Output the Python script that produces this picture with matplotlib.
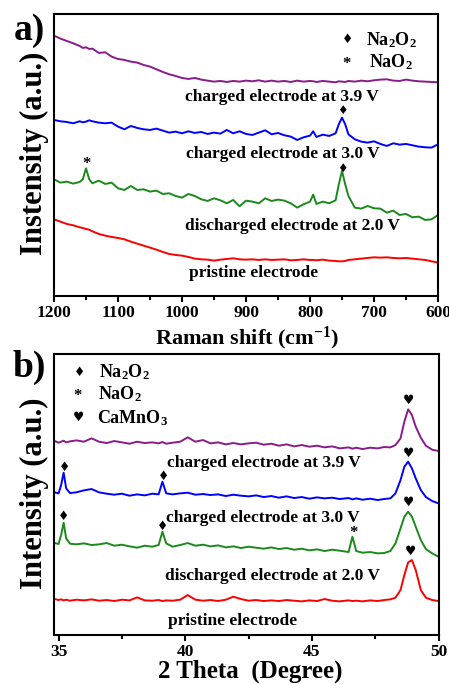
import matplotlib
matplotlib.use("Agg")
import matplotlib.pyplot as plt
from matplotlib.ticker import MultipleLocator

plt.rcParams['font.family'] = ['Liberation Serif', 'DejaVu Sans']
plt.rcParams['font.weight'] = 'bold'
plt.rcParams['mathtext.fontset'] = 'custom'
plt.rcParams['mathtext.rm'] = 'Liberation Serif:bold'
plt.rcParams['mathtext.bf'] = 'Liberation Serif:bold'
plt.rcParams['mathtext.default'] = 'rm'

# ---- Raman data (a) ----
raman_shift = [1200, 1190, 1180, 1170, 1160, 1155, 1150, 1145, 1140, 1130, 1120, 1110,
               1100, 1090, 1080, 1070, 1060, 1050, 1040, 1030, 1020, 1010, 1000, 990,
               980, 970, 960, 950, 940, 930, 920, 910, 900, 890, 880, 870, 860, 850,
               840, 830, 820, 810, 800, 795, 790, 780, 770, 760, 755, 750, 745, 740,
               730, 720, 710, 700, 690, 680, 670, 660, 650, 640, 630, 620, 610, 600]

raman_39 = [781, 772, 765, 758, 750, 744, 746, 741, 742, 729, 731, 718,
            711, 708, 703, 700, 693, 688, 680, 672, 665, 660, 654, 651,
            654, 649, 646, 643, 645, 642, 645, 643, 646, 644, 647, 643, 646, 643,
            645, 642, 646, 643, 645, 644, 642, 645, 643, 641, 644, 643, 642, 645,
            643, 646, 644, 647, 649, 650, 646, 645, 649, 646, 644, 643, 642, 641]

raman_30 = [528, 524, 522, 518, 524, 521, 523, 527, 524, 520, 518, 520,
            508, 500, 510, 504, 500, 498, 502, 496, 490, 493, 488, 494,
            489, 492, 486, 490, 487, 498, 488, 494, 486, 483, 490, 497, 485, 489,
            482, 478, 468, 476, 481, 494, 477, 484, 480, 488, 515, 535, 515, 485,
            470, 463, 460, 464, 456, 450, 458, 454, 456, 452, 448, 446, 445, 455]

raman_20 = [350, 340, 343, 337, 342, 350, 383, 350, 338, 346, 336, 340,
            323, 318, 330, 318, 320, 313, 316, 306, 308, 300, 295, 306,
            300, 290, 285, 293, 287, 278, 288, 269, 286, 283, 278, 293, 285, 289,
            286, 278, 265, 275, 283, 304, 276, 283, 278, 287, 335, 375, 335, 300,
            265, 262, 270, 263, 262, 250, 256, 243, 246, 236, 238, 228, 230, 243]

raman_pristine = [230, 223, 216, 212, 206, 204, 201, 199, 194, 186, 181, 177,
                  174, 170, 163, 157, 151, 145, 139, 132, 126, 123, 121, 117,
                  112, 110, 109, 106, 109, 111, 113, 110, 109, 110, 108, 110, 108, 109,
                  110, 107, 108, 110, 108, 108, 107, 109, 106, 105, 104, 104, 105, 108,
                  110, 112, 114, 116, 115, 116, 114, 113, 114, 112, 110, 108, 104, 100]

# ---- XRD data (b) ----
two_theta = [34.85, 35.0, 35.1, 35.2, 35.3, 35.45, 35.7, 36.0, 36.3, 36.6, 36.9, 37.2,
             37.5, 37.8, 38.1, 38.4, 38.7, 38.95, 39.1, 39.25, 39.5, 39.8, 40.1, 40.4,
             40.7, 41.0, 41.3, 41.6, 41.9, 42.2, 42.5, 42.8, 43.1, 43.4, 43.7, 44.0,
             44.3, 44.6, 44.9, 45.2, 45.5, 45.8, 46.1, 46.45, 46.6, 46.75, 47.0, 47.3,
             47.6, 47.85, 48.1, 48.3, 48.5, 48.65, 48.8, 48.95, 49.1, 49.3, 49.5, 49.75, 50.0]

xrd_39 = [582, 577, 580, 583, 578, 581, 584, 580, 590, 580, 576, 582,
          578, 574, 580, 576, 578, 575, 579, 574, 577, 580, 593, 580,
          585, 575, 578, 572, 576, 572, 575, 577, 571, 574, 568, 572,
          566, 570, 565, 568, 563, 566, 560, 563, 559, 562, 558, 562,
          560, 564, 563, 570, 590, 640, 677, 660, 625, 592, 568, 556, 552]

xrd_30 = [428, 425, 450, 487, 440, 426, 428, 434, 438, 428, 424, 421,
          424, 418, 422, 419, 424, 422, 460, 425, 422, 425, 427, 421,
          423, 420, 422, 417, 421, 418, 416, 419, 414, 417, 412, 416,
          411, 414, 409, 413, 410, 412, 408, 411, 407, 410, 406, 409,
          405, 408, 410, 425, 465, 505, 520, 500, 470, 435, 414, 402, 395]

xrd_20 = [276, 273, 300, 337, 290, 274, 272, 275, 270, 272, 276, 268,
          271, 266, 262, 268, 265, 270, 310, 275, 265, 270, 276, 268,
          271, 266, 269, 263, 266, 261, 265, 262, 259, 263, 258, 261,
          256, 259, 254, 257, 252, 256, 253, 249, 295, 252, 247, 249,
          245, 246, 252, 275, 320, 355, 370, 355, 325, 285, 258, 245, 235]

xrd_pristine = [108, 105, 107, 104, 106, 103, 106, 104, 107, 103, 105, 102,
                106, 104, 113, 104, 103, 105, 102, 104, 103, 106, 120, 106,
                103, 105, 102, 106, 115, 108, 103, 105, 102, 104, 102, 105,
                103, 101, 104, 102, 108, 103, 101, 104, 102, 103, 101, 104,
                102, 105, 107, 112, 135, 180, 218, 225, 195, 135, 112, 105, 102]

labels = ['charged electrode at 3.9 V', 'charged electrode at 3.0 V',
          'discharged electrode at 2.0 V', 'pristine electrode']
colors = ['#8b1a8b', '#0000ff', '#1a8a1a', '#ff0000']

fig = plt.figure(figsize=(4.49, 6.84), dpi=100)
ax1 = fig.add_axes([0.1203, 0.5673, 0.8552, 0.4123])
ax2 = fig.add_axes([0.1203, 0.0716, 0.8575, 0.4108])

for ys, c in zip([raman_39, raman_30, raman_20, raman_pristine], colors):
    ax1.plot(raman_shift, ys, color=c, lw=1.4)
for ys, c in zip([xrd_39, xrd_30, xrd_20, xrd_pristine], colors):
    ax2.plot(two_theta, ys, color=c, lw=1.4)

ax1.set_xlim(1200, 600)
ax1.set_ylim(0, 846)
ax2.set_xlim(34.82, 50.02)
ax2.set_ylim(0, 843)

for ax in (ax1, ax2):
    ax.set_yticks([])
    for s in ax.spines.values():
        s.set_linewidth(1.5)
    ax.tick_params(axis='x', which='major', length=4.5, width=1.5, labelsize=12.5, pad=2)
    ax.tick_params(axis='x', which='minor', length=3, width=1.5)
ax1.xaxis.set_major_locator(MultipleLocator(100))
ax1.xaxis.set_minor_locator(MultipleLocator(50))
ax2.xaxis.set_major_locator(MultipleLocator(5))
ax2.xaxis.set_minor_locator(MultipleLocator(2.5))

tsize = 12.5
# curve labels (a)
ax1.text(844, 596, labels[0], ha='center', va='center', fontsize=tsize)
ax1.text(843, 426, labels[1], ha='center', va='center', fontsize=tsize)
ax1.text(828, 210, labels[2], ha='center', va='center', fontsize=tsize)
ax1.text(888, 68, labels[3], ha='center', va='center', fontsize=tsize)
# peak markers (a)
ax1.text(749, 556, '♦', ha='center', va='center', fontsize=8.5, family='DejaVu Sans')
ax1.text(749, 382, '♦', ha='center', va='center', fontsize=8.5, family='DejaVu Sans')
ax1.text(1150, 396, '*', ha='center', va='center', fontsize=12)
# legend (a)
ax1.text(741, 768, '♦', ha='center', va='center', fontsize=9, family='DejaVu Sans')
ax1.text(713, 768, 'Na$_{2}$O$_{2}$', ha='left', va='center', fontsize=13)
ax1.text(743, 696, '*', ha='center', va='center', fontsize=12)
ax1.text(708, 700, 'NaO$_{2}$', ha='left', va='center', fontsize=13)

# curve labels (b)
ax2.text(43.1, 517, labels[0], ha='center', va='center', fontsize=tsize)
ax2.text(43.06, 352, labels[1], ha='center', va='center', fontsize=tsize)
ax2.text(43.44, 178, labels[2], ha='center', va='center', fontsize=tsize)
ax2.text(41.85, 43, labels[3], ha='center', va='center', fontsize=tsize)
# peak markers (b)
for x, y in [(35.24, 504), (39.13, 476), (35.21, 357), (39.1, 325)]:
    ax2.text(x, y, '♦', ha='center', va='center', fontsize=9, family='DejaVu Sans')
for x, y in [(48.8, 705), (48.8, 545), (48.8, 398), (48.88, 250)]:
    ax2.text(x, y, '♥', ha='center', va='center', fontsize=9, family='DejaVu Sans')
ax2.text(46.64, 306, '*', ha='center', va='center', fontsize=12)
# legend (b)
ax2.text(35.82, 788, '♦', ha='center', va='center', fontsize=9, family='DejaVu Sans')
ax2.text(36.6, 788, 'Na$_{2}$O$_{2}$', ha='left', va='center', fontsize=13)
ax2.text(35.75, 718, '*', ha='center', va='center', fontsize=12)
ax2.text(36.55, 722, 'NaO$_{2}$', ha='left', va='center', fontsize=13)
ax2.text(35.77, 652, '♥', ha='center', va='center', fontsize=9, family='DejaVu Sans')
ax2.text(36.5, 652, 'CaMnO$_{3}$', ha='left', va='center', fontsize=13)

# axis labels and panel letters
fig.text(34 / 449, 1 - 153 / 684, 'Instensity (a.u.)', rotation=90, ha='center', va='center', fontsize=22)
fig.text(34 / 449, 1 - 493 / 684, 'Intensity (a.u.)', rotation=90, ha='center', va='center', fontsize=22)
fig.text(247 / 449, 1 - 338 / 684, 'Raman shift (cm$^{-1}$)', ha='center', va='center', fontsize=16)
fig.text(250 / 449, 1 - 671 / 684, '2 Theta  (Degree)', ha='center', va='center', fontsize=18)
fig.text(29 / 449, 1 - 31 / 684, 'a)', ha='center', va='center', fontsize=27)
fig.text(29 / 449, 1 - 367 / 684, 'b)', ha='center', va='center', fontsize=27)

fig.savefig('out.png', dpi=100)
